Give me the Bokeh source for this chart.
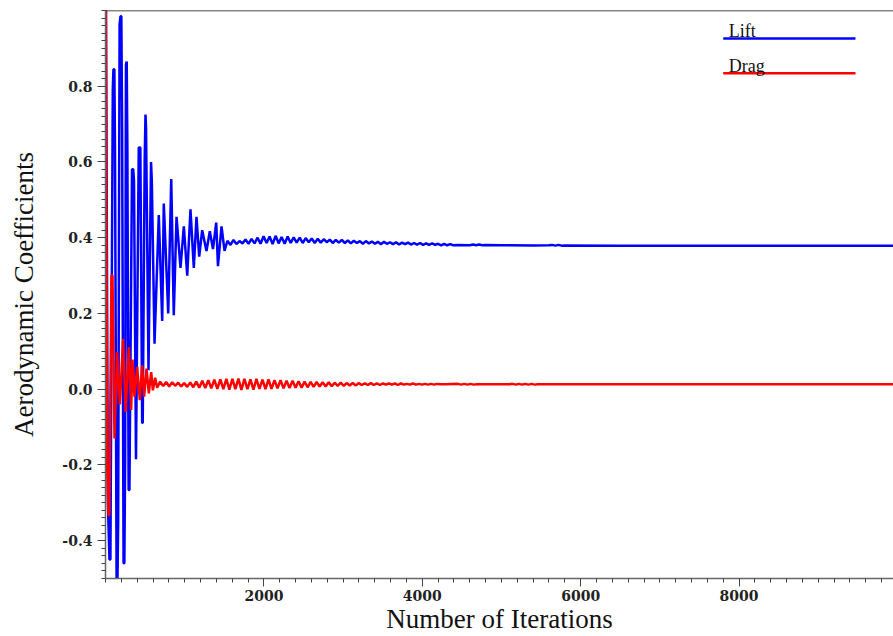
from bokeh.plotting import figure
from bokeh.models import FixedTicker, NumeralTickFormatter, Range1d, Label, Span
from bokeh.embed import file_html
from bokeh.resources import INLINE

# Lift coefficient history: turning points (with shoulders) of the oscillation, then the settled tail
lift_iter = [
    0, 30, 50, 62, 92, 100, 112, 120, 140, 150, 160, 178, 190, 200, 210, 228,
    238, 248, 258, 268, 276, 292, 302, 335, 350, 360, 385, 420, 440, 463, 470,
    495, 505, 512, 543, 575, 585, 619,
    673, 716, 736, 792, 830, 862, 897, 947, 989, 1032, 1073, 1115, 1149, 1183,
    1221, 1275, 1317, 1357, 1398, 1420, 1465, 1503,
    1540, 1578, 1616, 1654, 1692, 1730, 1768, 1806, 1844, 1882, 1920, 1958,
    1996, 2034, 2072, 2110, 2148, 2186, 2224, 2262, 2300, 2338, 2376, 2414,
    2452, 2490, 2528, 2566, 2604, 2642, 2680, 2718, 2756, 2794, 2832, 2870,
    2908, 2946, 2984, 3022, 3060, 3098, 3136, 3174, 3212, 3250, 3288, 3326,
    3364, 3402, 3440, 3478, 3516, 3554, 3592, 3630, 3668, 3706, 3744, 3782,
    3820, 3858, 3896, 3934, 3972, 4010, 4048, 4086, 4124, 4162, 4200, 4238,
    4276, 4314, 4352, 4390,
    4450, 4600, 4640, 4680, 4720, 4760, 4800, 5000, 5400, 5600, 5640, 5680,
    5720, 5760, 5800, 6500, 7500, 8500, 9950,
]
lift_coef = [
    1.35, -0.30, -0.45, -0.45, 0.79, 0.845, 0.845, 0.638, -0.50, -0.52, -0.35,
    0.964, 0.985, 0.985, 0.688, -0.46, -0.46, -0.19, 0.857, 0.865, 0.645,
    -0.266, -0.266, 0.581, 0.581, 0.55, -0.185, 0.638, 0.638, -0.089, -0.089,
    0.61, 0.725, 0.69, 0.05, 0.60, 0.55, 0.12,
    0.46, 0.18, 0.49, 0.20, 0.555, 0.195, 0.455,
    0.32, 0.43, 0.30, 0.475, 0.32, 0.455, 0.35, 0.42, 0.365, 0.417, 0.37, 0.44,
    0.325, 0.43, 0.365,
    0.392, 0.381, 0.394, 0.383, 0.391, 0.385, 0.395, 0.384, 0.397, 0.385, 0.400,
    0.384, 0.404, 0.386, 0.403, 0.383, 0.405, 0.385, 0.402, 0.384, 0.403, 0.386,
    0.401, 0.387, 0.400, 0.386, 0.399, 0.388, 0.398, 0.386, 0.397, 0.387, 0.396,
    0.388, 0.395, 0.386, 0.394, 0.387, 0.394, 0.386, 0.393, 0.385, 0.392, 0.386,
    0.391, 0.384, 0.391, 0.385, 0.390, 0.384, 0.389, 0.383, 0.389, 0.384, 0.388,
    0.383, 0.388, 0.382, 0.387, 0.383, 0.387, 0.382, 0.386, 0.382, 0.386, 0.381,
    0.385, 0.381, 0.385, 0.381, 0.384, 0.380, 0.384, 0.380, 0.383, 0.380,
    0.381, 0.380, 0.382, 0.380, 0.382, 0.380, 0.381, 0.380, 0.3795, 0.380,
    0.381, 0.379, 0.381, 0.379, 0.3795, 0.379, 0.379, 0.379, 0.379,
]

# Drag coefficient history
drag_iter = [
    0, 20, 38, 48, 75, 88, 114, 147, 181, 223, 253, 295, 324, 341, 366, 400,
    433, 463, 488, 518, 547, 577, 598, 627, 652,
    690, 728, 766, 804, 842, 880, 918, 956, 994, 1032, 1070, 1108, 1146, 1184,
    1222, 1260, 1298, 1336, 1374, 1412, 1450, 1488, 1526, 1564, 1602, 1640,
    1678, 1716, 1754, 1792, 1830, 1868, 1906, 1944, 1982, 2020, 2058, 2096,
    2134, 2172, 2210, 2248, 2286, 2324, 2362, 2400, 2438, 2476, 2514, 2552,
    2590, 2628, 2666, 2704, 2742, 2780, 2818, 2856, 2894, 2932, 2970, 3008,
    3046, 3084, 3122, 3160, 3198, 3236, 3274, 3312, 3350, 3388, 3426, 3464,
    3502, 3540, 3578, 3616, 3654, 3692, 3730, 3768, 3806, 3844, 3882, 3920,
    3958, 3996, 4034, 4072, 4110, 4148, 4186, 4224, 4300,
    4450, 4490, 4530, 4570, 4610, 4650, 4690, 5100, 5140, 5180, 5220, 5260,
    5300, 5340, 5380, 5420, 5460, 6000, 7000, 8000, 9950,
]
drag_coef = [
    1.30, -0.195, -0.333, -0.333, 0.30, 0.30, -0.13, 0.098, -0.04, 0.133, -0.06,
    0.111, -0.055, 0.078, -0.02, 0.059, -0.029, 0.063, -0.02, 0.054, -0.011,
    0.045, -0.003, 0.030, 0.004,
    0.020, 0.008, 0.019, 0.007, 0.018, 0.009, 0.017, 0.007, 0.016, 0.006, 0.018,
    0.005, 0.020, 0.004, 0.022, 0.003, 0.024, 0.002, 0.025, 0.001, 0.026, 0.000,
    0.027, -0.001, 0.027, 0.000, 0.028, -0.002, 0.027, 0.000, 0.026, -0.001,
    0.027, 0.001, 0.025, 0.000, 0.026, 0.001, 0.024, 0.002, 0.024, 0.002, 0.022,
    0.003, 0.022, 0.004, 0.021, 0.004, 0.020, 0.005, 0.019, 0.006, 0.019, 0.007,
    0.018, 0.007, 0.018, 0.008, 0.017, 0.009, 0.017, 0.009, 0.016, 0.010, 0.016,
    0.010, 0.016, 0.011, 0.015, 0.011, 0.016, 0.011, 0.015, 0.011, 0.015, 0.012,
    0.015, 0.012, 0.015, 0.011, 0.015, 0.012, 0.014, 0.012, 0.015, 0.012, 0.014,
    0.012, 0.014, 0.012, 0.014, 0.012, 0.014, 0.013, 0.013,
    0.014, 0.012, 0.014, 0.012, 0.014, 0.012, 0.013, 0.013, 0.014, 0.012, 0.014,
    0.012, 0.014, 0.012, 0.014, 0.012, 0.013, 0.013, 0.013, 0.013, 0.013,
]

x_major_ticks = [2000, 4000, 6000, 8000]
x_minor_ticks = list(range(0, 10001, 200))
y_major_ticks = [-0.4, -0.2, 0.0, 0.2, 0.4, 0.6, 0.8]
y_minor_ticks = [round(-0.5 + 0.02 * k, 2) for k in range(76)]

SERIF = "Liberation Serif"

p = figure(
    width=893, height=636,
    x_range=Range1d(0, 9950), y_range=Range1d(-0.5, 1.0),
    output_backend="svg", toolbar_location=None,
    min_border_left=105, min_border_right=0,
    min_border_top=10, min_border_bottom=57,
)
p.background_fill_color = "white"
p.border_fill_color = "white"
p.outline_line_color = None
p.xgrid.visible = False
p.ygrid.visible = False

# top edge of the plotting box
p.add_layout(Span(location=1.0, dimension="width", line_color="#111111", line_width=1.5))

p.line(lift_iter, lift_coef, line_color="#0000FF", line_width=2.5)
p.line(drag_iter, drag_coef, line_color="#FF0000", line_width=2.5)

# key: label sitting on a coloured stroke
p.line([7800, 9470], [0.926, 0.926], line_color="#0000FF", line_width=2.5)
p.line([7800, 9470], [0.834, 0.834], line_color="#FF0000", line_width=2.5)
for txt, yb in (("Lift", 0.945), ("Drag", 0.853)):
    p.add_layout(Label(x=7870, y=yb, text=txt, text_font=SERIF,
                       text_font_size="18px", text_color="#111111",
                       text_baseline="alphabetic", text_align="left"))

p.xaxis.ticker = FixedTicker(ticks=x_major_ticks, minor_ticks=x_minor_ticks)
p.yaxis.ticker = FixedTicker(ticks=y_major_ticks, minor_ticks=y_minor_ticks)
p.yaxis.formatter = NumeralTickFormatter(format="0.0")
p.xaxis.formatter = NumeralTickFormatter(format="0")

for ax in (p.xaxis[0], p.yaxis[0]):
    ax.axis_line_color = "#666666"
    ax.axis_line_width = 1.5
    ax.major_tick_line_color = "#444444"
    ax.minor_tick_line_color = "#444444"
    ax.major_tick_out = 8
    ax.major_tick_in = 0
    ax.minor_tick_out = 4
    ax.minor_tick_in = 0
    ax.major_label_text_font = "DejaVu Serif"
    ax.major_label_text_font_style = "bold"
    ax.major_label_text_font_size = "14px"
    ax.major_label_text_color = "#222222"
    ax.axis_label_text_font = SERIF
    ax.axis_label_text_font_style = "normal"
    ax.axis_label_text_font_size = "27px"
    ax.axis_label_text_color = "#111111"

p.xaxis.axis_label = "Number of Iterations"
p.xaxis.major_label_standoff = 3
p.xaxis.axis_label_standoff = 0
p.yaxis.axis_label = "Aerodynamic Coefficients"
p.yaxis.major_label_standoff = 5
p.yaxis.axis_label_standoff = 20

open("out.html", "w").write(file_html(p, INLINE))
